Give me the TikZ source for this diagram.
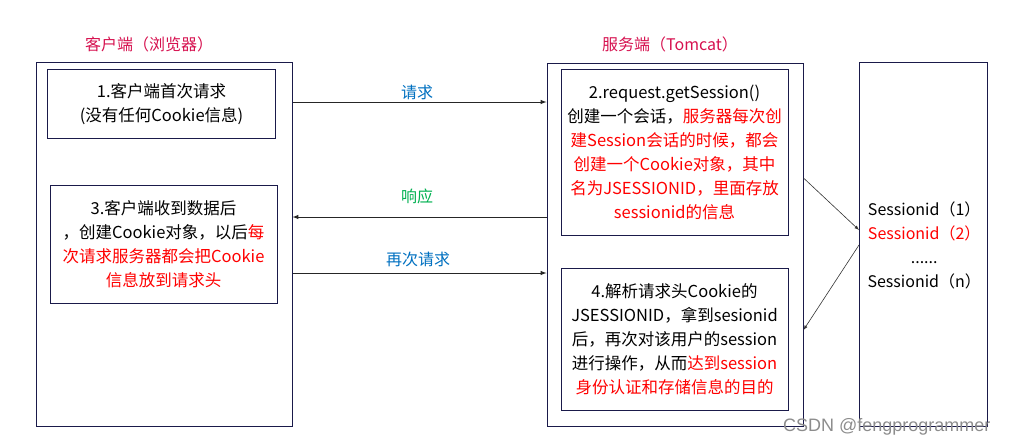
\documentclass[tikz,border=0pt]{standalone}
\usepackage{fontspec}
\setmainfont{Noto Sans CJK SC}
\newfontfamily\markfont{Liberation Sans}
\usetikzlibrary{calc}

\definecolor{boxline}{HTML}{1A1A4A}
\definecolor{titlered}{HTML}{D6114F}
\definecolor{reqblue}{HTML}{0070C0}
\definecolor{respgreen}{HTML}{00B050}

\tikzset{
  bigbox/.style={draw=boxline, line width=1pt, inner sep=0pt},
  stepbox/.style={draw=boxline, line width=1pt, inner sep=0pt, align=center,
    font=\fontsize{16.5}{24}\selectfont},
  title/.style={text=titlered, font=\fontsize{16}{18}\selectfont},
  msg/.style={font=\fontsize{16}{18}\selectfont},
  flow/.style={->, line width=1pt, black!85}
}

\newcommand{\hl}[1]{\textcolor{red}{#1}}

\begin{document}
\begin{tikzpicture}[x=1pt, y=-1pt, >=latex]

    \useasboundingbox (0,0) rectangle (1009,445);

    % 1. Các khung lớn
    \node[bigbox, minimum width=256, minimum height=364] (client)  at (164, 244) {};
    \node[bigbox, minimum width=256, minimum height=363] (server)  at (675, 244.5) {};
    \node[bigbox, minimum width=128, minimum height=364] (session) at (923.5, 244) {};

    % 2. Tiêu đề
    \node[title] (clienttitle) at (149, 44) {客户端（浏览器）};
    \node[title] (servertitle) at (670, 44) {服务端（Tomcat）};

    % 3. Các bước phía client
    \node[stepbox, minimum width=228, minimum height=68.5] (step1) at (161.5, 103.75)
      {1.客户端首次请求\\(没有任何Cookie信息)};
    \node[stepbox, minimum width=227, minimum height=118] (step3) at (163.5, 244)
      {3.客户端收到数据后\\，创建Cookie对象，以后\hl{每}\\\hl{次请求服务器都会把Cookie}\\\hl{信息放到请求头}};

    % 4. Các bước phía server
    \node[stepbox, minimum width=227, minimum height=166] (step2) at (674.5, 152)
      {2.request.getSession()\\创建一个会话，\hl{服务器每次创}\\\hl{建Session会话的时候，都会}\\\hl{创建一个Cookie对象，其中}\\\hl{名为JSESSIONID，里面存放}\\\hl{sessionid的信息}};
    \node[stepbox, minimum width=227, minimum height=142] (step4) at (674.5, 339)
      {4.解析请求头Cookie的\\JSESSIONID，拿到sesionid\\后，再次对该用户的session\\进行操作，从而\hl{达到session}\\\hl{身份认证和存储信息的目的}};

    % 5. Danh sách session
    \node[anchor=west, align=center, font=\fontsize{16}{24}\selectfont] (ids) at (864, 245)
      {Sessionid（1）\\\hl{Sessionid（2）}\\......\\Sessionid（n）};

    % 6. Mũi tên giữa client và server
    \coordinate (reqY)   at (0, 102);
    \coordinate (respY)  at (0, 217);
    \coordinate (againY) at (0, 273);
    \draw[flow] (client.east |- reqY)   -- (server.west |- reqY);
    \draw[flow] (server.west |- respY)  -- (client.east |- respY);
    \draw[flow] (client.east |- againY) -- (server.west |- againY);

    \node[msg, text=reqblue]   (reqlabel)   at (417, 92)  {请求};
    \node[msg, text=respgreen] (resplabel)  at (417, 196) {响应};
    \node[msg, text=reqblue]   (againlabel) at (418, 259) {再次请求};

    % 7. Mũi tên tới danh sách session
    \coordinate (outY)  at (0, 178);
    \coordinate (inY)   at (0, 230);
    \coordinate (backY) at (0, 245);
    \coordinate (retY)  at (0, 330);
    \draw[->, line width=0.6pt, black!80] (server.east |- outY) -- (session.west |- inY);
    \draw[->, line width=0.6pt, black!80] (session.west |- backY) -- (server.east |- retY);

    % 8. Watermark
    \node[text=black!45, font=\markfont\fontsize{18}{20}\selectfont, anchor=east] (mark) at (994, 427)
      {CSDN @fengprogrammer};

\end{tikzpicture}
\end{document}
